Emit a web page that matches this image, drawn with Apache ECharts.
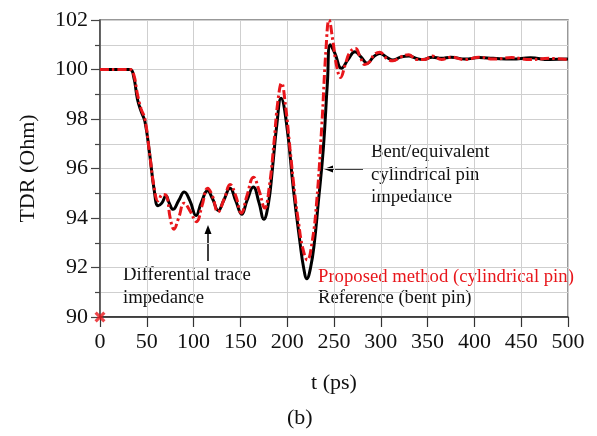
<!DOCTYPE html>
<html>
<head>
<meta charset="utf-8">
<script src="https://cdn.jsdelivr.net/npm/echarts@6/dist/echarts.min.js"></script>
<style>
  html, body { margin: 0; padding: 0; background: #fff; }
  #tdr_chart { width: 597px; height: 436px; }
</style>
</head>
<body>
<div id="tdr_chart"></div>
<script>
  // Reference (bent pin) - time in ps, TDR in Ohm
  var refTime = [0, 32, 36, 40, 44, 48, 53, 58, 62, 66, 70.5, 74, 78, 84, 90, 96, 102.6, 108, 115, 120, 126.4, 132, 139, 145, 151.4, 157, 163.8, 170, 175, 180, 184, 189, 193.4, 199.5, 206.5, 213.7, 217.5, 221, 225, 229, 233.3, 238.6, 243, 246, 251, 258, 265, 272.4, 279, 285.5, 292, 299, 306, 313, 321, 330, 338, 345, 355, 365, 375, 390, 405, 420, 440, 460, 480, 500];
  var refTdr = [100, 100, 99.7, 98.8, 98.3, 97.9, 96.6, 95.1, 94.5, 94.6, 94.9, 94.6, 94.35, 94.7, 95.05, 94.7, 94.1, 94.6, 95.1, 94.8, 94.3, 94.7, 95.2, 94.7, 94.15, 94.7, 95.25, 94.6, 93.95, 94.6, 95.9, 97.8, 98.84, 97.75, 95.2, 93.0, 92.0, 91.55, 92.0, 93.0, 94.66, 96.8, 99.5, 101.0, 100.65, 100.05, 100.4, 100.72, 100.5, 100.25, 100.5, 100.65, 100.5, 100.38, 100.5, 100.55, 100.45, 100.4, 100.5, 100.45, 100.5, 100.42, 100.48, 100.45, 100.42, 100.47, 100.4, 100.42];

  // Proposed method (cylindrical pin)
  var propTime = [0, 32, 36, 40, 44, 48, 53, 58, 62, 67, 71, 75, 79, 84, 90, 96, 103, 109, 115, 120, 126, 133, 139, 145, 151, 157, 164, 170, 176, 181, 186, 190, 194, 198, 203, 208, 212, 216.5, 221.5, 226.5, 231.5, 237, 241.5, 244.7, 249, 253, 257, 262, 267, 273, 278, 283, 288, 293, 299, 306, 313, 321, 330, 338, 347, 355, 365, 375, 390, 405, 420, 440, 460, 480, 500];
  var propTdr = [100, 100, 99.8, 99.0, 98.4, 98.0, 96.6, 95.2, 94.7, 94.95, 94.9, 94.0, 93.55, 94.0, 94.6, 94.3, 93.85, 94.5, 95.2, 94.9, 94.25, 94.8, 95.35, 94.9, 94.2, 94.9, 95.65, 95.1, 94.4, 95.3, 97.1, 98.7, 99.45, 98.6, 96.8, 95.0, 93.85, 92.8, 92.3, 93.0, 94.66, 97.76, 100.85, 102.0, 101.1, 100.1, 99.68, 100.2, 100.7, 100.85, 100.5, 100.2, 100.3, 100.6, 100.7, 100.45, 100.35, 100.5, 100.6, 100.4, 100.4, 100.55, 100.4, 100.5, 100.4, 100.5, 100.42, 100.48, 100.4, 100.45, 100.4];

  var seriesNames = ['Proposed method (cylindrical pin)', 'Reference (bent pin)'];
  var originMark = [[0, 90]];

  function pairs(xs, ys) {
    return xs.map(function (x, i) { return [x, ys[i]]; });
  }

  var RED = '#e8161b';
  var FONT = '"Liberation Serif", "Times New Roman", serif';
  var NOTE_FONT = '18.7px ' + FONT;

  var chart = echarts.init(document.getElementById('tdr_chart'));

  chart.setOption({
    animation: false,
    textStyle: { fontFamily: FONT },
    grid: {
      left: 100, right: 29, top: 20, bottom: 119,
      show: true,
      borderColor: '#777',
      borderWidth: 1.5
    },
    xAxis: {
      type: 'value',
      min: 0, max: 500, interval: 50,
      name: 't (ps)',
      nameLocation: 'middle',
      nameGap: 55,
      nameTextStyle: { fontSize: 22, color: '#111', fontFamily: FONT },
      axisLine: { lineStyle: { color: '#222', width: 1.5 } },
      axisTick: { inside: false, length: 10, lineStyle: { color: '#333', width: 1.2 } },
      axisLabel: { fontSize: 22, color: '#111', margin: 14, fontFamily: FONT },
      splitLine: { show: true, lineStyle: { color: '#cfcfcf', width: 1 } }
    },
    yAxis: {
      type: 'value',
      min: 90, max: 102, interval: 2,
      name: 'TDR (Ohm)',
      nameLocation: 'middle',
      nameGap: 61,
      nameTextStyle: { fontSize: 22, color: '#111', fontFamily: FONT },
      axisLine: { show: true, lineStyle: { color: '#444', width: 1.5 } },
      axisTick: { show: true, inside: false, length: 9, lineStyle: { color: '#444', width: 1.2 } },
      minorTick: { show: true, splitNumber: 2, length: 5, lineStyle: { color: '#444', width: 1.2 } },
      axisLabel: { fontSize: 22, color: '#111', margin: 12, fontFamily: FONT },
      splitLine: { show: true, lineStyle: { color: '#cfcfcf', width: 1 } },
      minorSplitLine: { show: true, lineStyle: { color: '#cfcfcf', width: 1 } }
    },
    series: [
      {
        name: seriesNames[1],
        type: 'line',
        data: pairs(refTime, refTdr),
        smooth: 0.45,
        symbol: 'none',
        lineStyle: { color: '#000', width: 3 },
        z: 2
      },
      {
        name: seriesNames[0],
        type: 'line',
        data: pairs(propTime, propTdr),
        smooth: 0.45,
        symbol: 'none',
        lineStyle: { color: RED, width: 3, type: [9, 3, 2.5, 3] },
        z: 3
      },
      {
        type: 'scatter',
        data: originMark,
        clip: false,
        symbol: 'path://M2,0L5,3L8,0L10,2L7,5L10,8L8,10L5,7L2,10L0,8L3,5L0,2Z',
        symbolSize: 11,
        itemStyle: { color: RED },
        z: 5
      }
    ],
    graphic: [
      {
        type: 'text', left: 371, top: 141,
        style: { text: 'Bent/equivalent\ncylindrical pin\nimpedance', fill: '#111', font: NOTE_FONT, lineHeight: 22.5 }
      },
      {
        type: 'line', shape: { x1: 363, y1: 169, x2: 329, y2: 169 },
        style: { stroke: '#000', lineWidth: 1.5 }
      },
      {
        type: 'polygon', shape: { points: [[324, 169], [333, 165.5], [333, 172.5]] },
        style: { fill: '#000' }
      },
      {
        type: 'text', left: 123, top: 264,
        style: { text: 'Differential trace\nimpedance', fill: '#111', font: NOTE_FONT, lineHeight: 22.5 }
      },
      {
        type: 'line', shape: { x1: 208, y1: 261, x2: 208, y2: 230 },
        style: { stroke: '#000', lineWidth: 1.5 }
      },
      {
        type: 'polygon', shape: { points: [[208, 225], [204.5, 234], [211.5, 234]] },
        style: { fill: '#000' }
      },
      {
        type: 'text', left: 318, top: 268,
        style: { text: seriesNames[0], fill: RED, font: NOTE_FONT }
      },
      {
        type: 'text', left: 318, top: 289,
        style: { text: seriesNames[1], fill: '#111', font: NOTE_FONT }
      },
      {
        type: 'text', left: 287, top: 407,
        style: { text: '(b)', fill: '#111', font: '22px ' + FONT }
      }
    ]
  });

  window.addEventListener('resize', function () {
    chart.resize();
  });
</script>
</body>
</html>
